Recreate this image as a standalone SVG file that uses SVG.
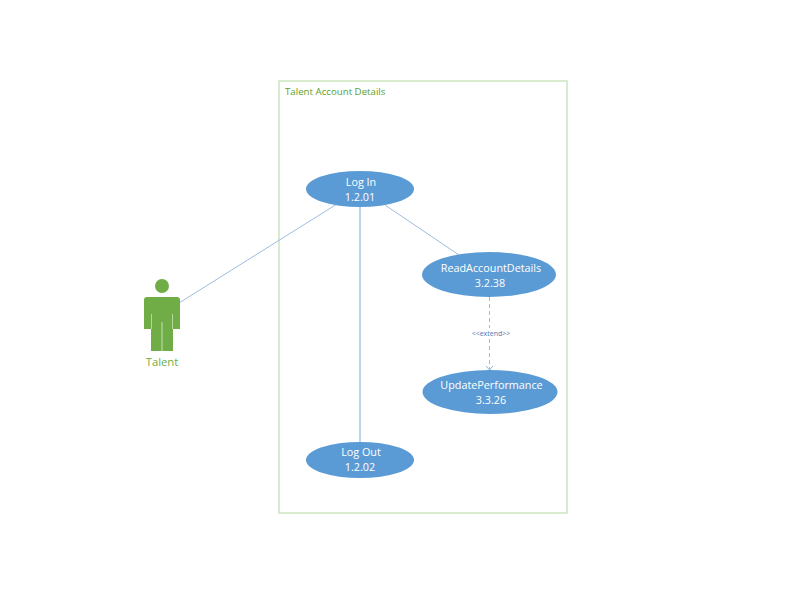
<svg xmlns="http://www.w3.org/2000/svg" width="792" height="612" viewBox="0 0 792 612">
<defs>
<style>
text{font-family:"Open Sans","Noto Sans","Liberation Sans",sans-serif}
.uc{fill:#5b9bd5}
.ut{fill:#fff;font-size:10.800px;text-anchor:middle}
.c{stroke:#9dbde0;stroke-width:1;fill:none}
</style>
<marker id="open" markerWidth="10" markerHeight="10" refX="5" refY="5" orient="auto" markerUnits="userSpaceOnUse">
<path d="M1 1.500L5 5L1 8.500" fill="none" stroke="#8fb4dc" stroke-width="1"/>
</marker>
</defs>
<rect width="792" height="612" fill="#fff"/>
<g id="boundary">
<rect x="279" y="81" width="288" height="432" fill="#fff" stroke="#c5e0b4" stroke-width="1.300"/>
<text x="285" y="95" font-size="9.700" fill="#5aa02c">Talent Account Details</text>
</g>
<g id="connectors">
<line class="c" x1="179" y1="303" x2="337" y2="204"/>
<line class="c" x1="385" y1="205" x2="459" y2="255"/>
<line x1="360" y1="207" x2="360" y2="443" stroke="#bdd3ea" stroke-width="2"/>
<line x1="489.500" y1="297" x2="489.500" y2="370" stroke="#9dbde0" stroke-width="1" stroke-dasharray="4 3" marker-end="url(#open)"/>
<rect x="470" y="328" width="42" height="10" fill="#fff"/>
<text x="491" y="335.500" font-size="7" fill="#4a7ab5" text-anchor="middle">&lt;&lt;extend&gt;&gt;</text>
</g>
<g id="actor-talent">
<circle cx="162" cy="286" r="7" fill="#70ad47"/>
<path d="M147 297H177Q180 297 180 300V329H173V351H151V329H144V300Q144 297 147 297Z" fill="#70ad47"/>
<line x1="162" y1="322" x2="162" y2="351" stroke="#c5e0b4" stroke-width="1"/>
<line x1="151.500" y1="314" x2="151.500" y2="329" stroke="#c5e0b4" stroke-width=".8"/>
<line x1="172.500" y1="314" x2="172.500" y2="329" stroke="#c5e0b4" stroke-width=".8"/>
<text x="162" y="366" font-size="11.300" fill="#70ad47" text-anchor="middle">Talent</text>
</g>
<g id="uc-login">
<ellipse class="uc" cx="360" cy="189" rx="54" ry="18"/>
<text class="ut" x="361" y="186">Log In</text>
<text class="ut" x="360" y="201">1.2.01</text>
</g>
<g id="uc-readaccountdetails">
<ellipse class="uc" cx="489" cy="274.500" rx="67" ry="22.500"/>
<text class="ut" x="491" y="272">ReadAccountDetails</text>
<text class="ut" x="490" y="287">3.2.38</text>
</g>
<g id="uc-updateperformance">
<ellipse class="uc" cx="490" cy="392" rx="67.500" ry="22"/>
<text class="ut" x="491.500" y="389">UpdatePerformance</text>
<text class="ut" x="491" y="404">3.3.26</text>
</g>
<g id="uc-logout">
<ellipse class="uc" cx="360" cy="460" rx="54" ry="18"/>
<text class="ut" x="361" y="456">Log Out</text>
<text class="ut" x="360" y="471">1.2.02</text>
</g>
</svg>
